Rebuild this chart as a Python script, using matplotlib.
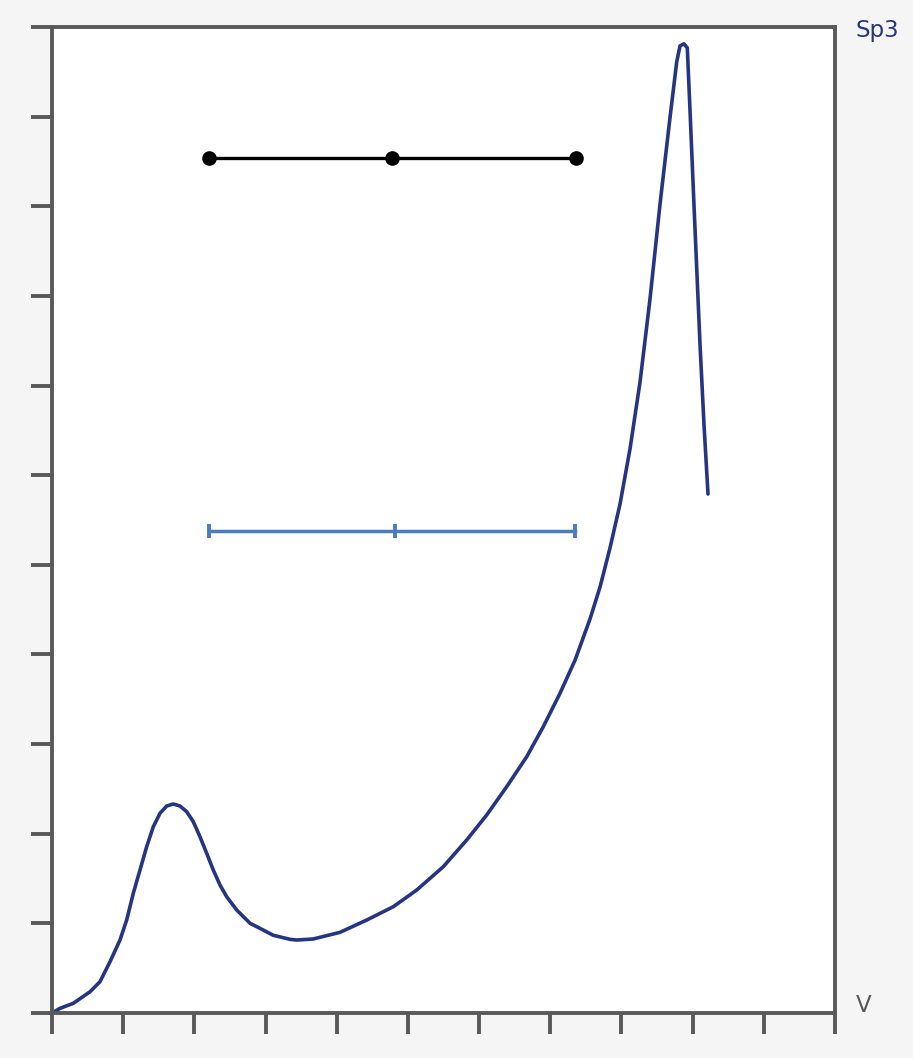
import matplotlib
matplotlib.use('Agg')
import matplotlib.pyplot as plt

# main curve
curve_x = [0.0, 0.112, 0.299, 0.534, 0.674, 0.815, 0.955, 1.049, 1.142, 1.236,
           1.330, 1.423, 1.517, 1.611, 1.704, 1.798, 1.892, 1.985, 2.079, 2.173,
           2.266, 2.360, 2.454, 2.595, 2.782, 2.876, 3.109, 3.344, 3.438, 3.671,
           4.046, 4.421, 4.795, 5.124, 5.497, 5.826, 6.107, 6.388, 6.669, 6.902,
           7.137, 7.350, 7.558, 7.699, 7.839, 7.980, 8.120, 8.261, 8.401, 8.542,
           8.683, 8.777, 8.823, 8.879, 8.925, 8.963, 9.019, 9.104, 9.160, 9.216]
curve_y = [0.0, 0.052, 0.108, 0.237, 0.349, 0.572, 0.814, 1.037, 1.335, 1.595,
           1.855, 2.078, 2.228, 2.309, 2.332, 2.309, 2.246, 2.134, 1.967, 1.782,
           1.595, 1.428, 1.297, 1.149, 1.001, 0.963, 0.867, 0.822, 0.814, 0.826,
           0.900, 1.037, 1.186, 1.372, 1.632, 1.930, 2.209, 2.525, 2.859, 3.194,
           3.567, 3.940, 4.395, 4.752, 5.187, 5.678, 6.292, 7.039, 7.965, 9.025,
           9.996, 10.614, 10.790, 10.812, 10.767, 10.074, 9.014, 7.452, 6.560, 5.790]

# black segment with dots
dots_x = [2.21, 4.78, 7.36]
dots_y = [9.54, 9.54, 9.54]

# blue segment with caps
caps_x = [2.21, 4.82, 7.35]
caps_y = [5.38, 5.38, 5.38]

xticks = list(range(0, 12))
yticks = list(range(0, 12))

navy = '#253582'
gray = '#595959'

fig = plt.figure(figsize=(9.13, 10.58), dpi=100, facecolor='#f5f5f5')
ax = fig.add_axes([0.05695, 0.04253, 0.85761, 0.93195])
ax.set_facecolor('white')

ax.plot(curve_x, curve_y, color=navy, lw=2.6, solid_capstyle='round', solid_joinstyle='round')
ax.plot(dots_x, dots_y, color='black', lw=2.4, marker='o', markersize=9.5)
ax.plot(caps_x, caps_y, color='#4a7bbf', lw=2.5, marker='|', markersize=10, mew=2.8)

ax.set_xlim(0, 11)
ax.set_ylim(0, 11)
ax.set_xticks(xticks)
ax.set_yticks(yticks)
ax.set_xticklabels([])
ax.set_yticklabels([])
ax.tick_params(direction='out', length=15, width=2.8, color=gray)
for s in ax.spines.values():
    s.set_color(gray)
    s.set_linewidth(2.8)

fig.text(855 / 913, 1 - 30 / 1058, 'Sp3', color=navy, fontsize=16.5, ha='left', va='center')
fig.text(856 / 913, 1 - 1005 / 1058, 'V', color=gray, fontsize=16.5, ha='left', va='center')

fig.savefig('out.png', dpi=100, facecolor=fig.get_facecolor())
